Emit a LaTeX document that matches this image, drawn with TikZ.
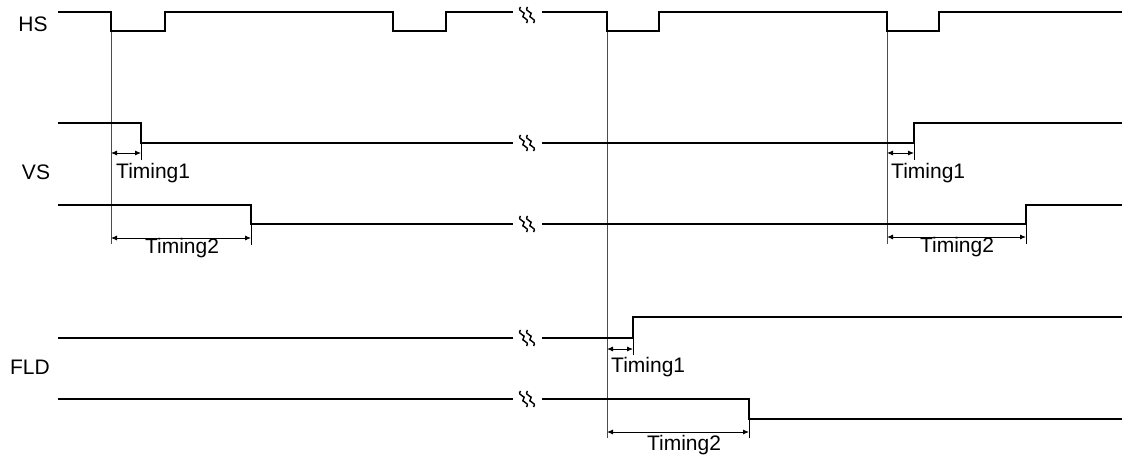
\documentclass[tikz,border=0pt]{standalone}
\usepackage{fontspec}
\setmainfont{Liberation Sans}
\usetikzlibrary{arrows.meta}

\tikzset{
    signal/.style={line width=1.8pt, line join=miter},
    guide/.style={line width=0.8pt, black!70},
    span/.style={line width=0.9pt, {Latex[length=6pt,width=5pt]}-{Latex[length=6pt,width=5pt]}},
    edgetick/.style={line width=0.9pt},
    lbl/.style={font=\fontsize{21}{24}\selectfont, inner sep=0pt},
    sigbreak/.pic={
        \foreach \dx in {-3.5,3.5}
            \draw[line width=1.4pt] (\dx-3,-8) .. controls (\dx-7,-3) and (\dx+4,-3) .. (\dx,0)
                .. controls (\dx-4,3) and (\dx+7,3) .. (\dx+3,8);
    }
}

\begin{document}
\begin{tikzpicture}[x=1pt, y=-1pt]

        \useasboundingbox (0,0) rectangle (1132,462);

        % Signal names
        \node[lbl] (hs) at (33,24) {HS};
        \node[lbl] (vs) at (36,172) {VS};
        \node[lbl] (fld) at (30,367) {FLD};

        % Reference lines
        \draw[guide] (111,31) -- (111,244);
        \draw[guide] (607,31) -- (607,438);
        \draw[guide] (887,31) -- (887,244);

        % HS
        \draw[signal] (58,12) -- (111,12) -- (111,31) -- (165,31) -- (165,12) -- (393,12) -- (393,31)
            -- (446,31) -- (446,12) -- (513,12);
        \draw[signal] (542,12) -- (607,12) -- (607,31) -- (659,31) -- (659,12) -- (887,12) -- (887,31)
            -- (939,31) -- (939,12) -- (1122,12);

        % VS
        \draw[signal] (58,123) -- (141,123) -- (141,143) -- (513,143);
        \draw[signal] (542,143) -- (914,143) -- (914,123) -- (1122,123);
        \draw[signal] (58,205) -- (251,205) -- (251,224) -- (513,224);
        \draw[signal] (542,224) -- (1026,224) -- (1026,205) -- (1122,205);

        % FLD
        \draw[signal] (58,338) -- (513,338);
        \draw[signal] (542,338) -- (633,338) -- (633,317) -- (1122,317);
        \draw[signal] (58,399) -- (513,399);
        \draw[signal] (542,399) -- (749,399) -- (749,419) -- (1122,419);

        % Breaks
        \foreach \y in {15,143,224,338,399}
            {
                \pic at (527,\y) {sigbreak};
            }

        % Timings
        \draw[span] (111,153) -- (141,153);
        \draw[edgetick] (141,143) -- (141,160);
        \node[lbl, anchor=west] (vsta) at (116,173) {Timing1};

        \draw[span] (111,238) -- (251,238);
        \draw[edgetick] (251,224) -- (251,245);
        \node[lbl] (vstb) at (182,248) {Timing2};

        \draw[span] (887,153) -- (914,153);
        \draw[edgetick] (914,143) -- (914,160);
        \node[lbl, anchor=west] (vstc) at (891,173) {Timing1};

        \draw[span] (887,237) -- (1026,237);
        \draw[edgetick] (1026,224) -- (1026,244);
        \node[lbl] (vstd) at (957,247) {Timing2};

        \draw[span] (607,349) -- (633,349);
        \draw[edgetick] (633,338) -- (633,355);
        \node[lbl, anchor=west] (fldta) at (611,367) {Timing1};

        \draw[span] (607,432) -- (749,432);
        \draw[edgetick] (749,419) -- (749,438);
        \node[lbl] (fldtb) at (684,445) {Timing2};

    \end{tikzpicture}
\end{document}
